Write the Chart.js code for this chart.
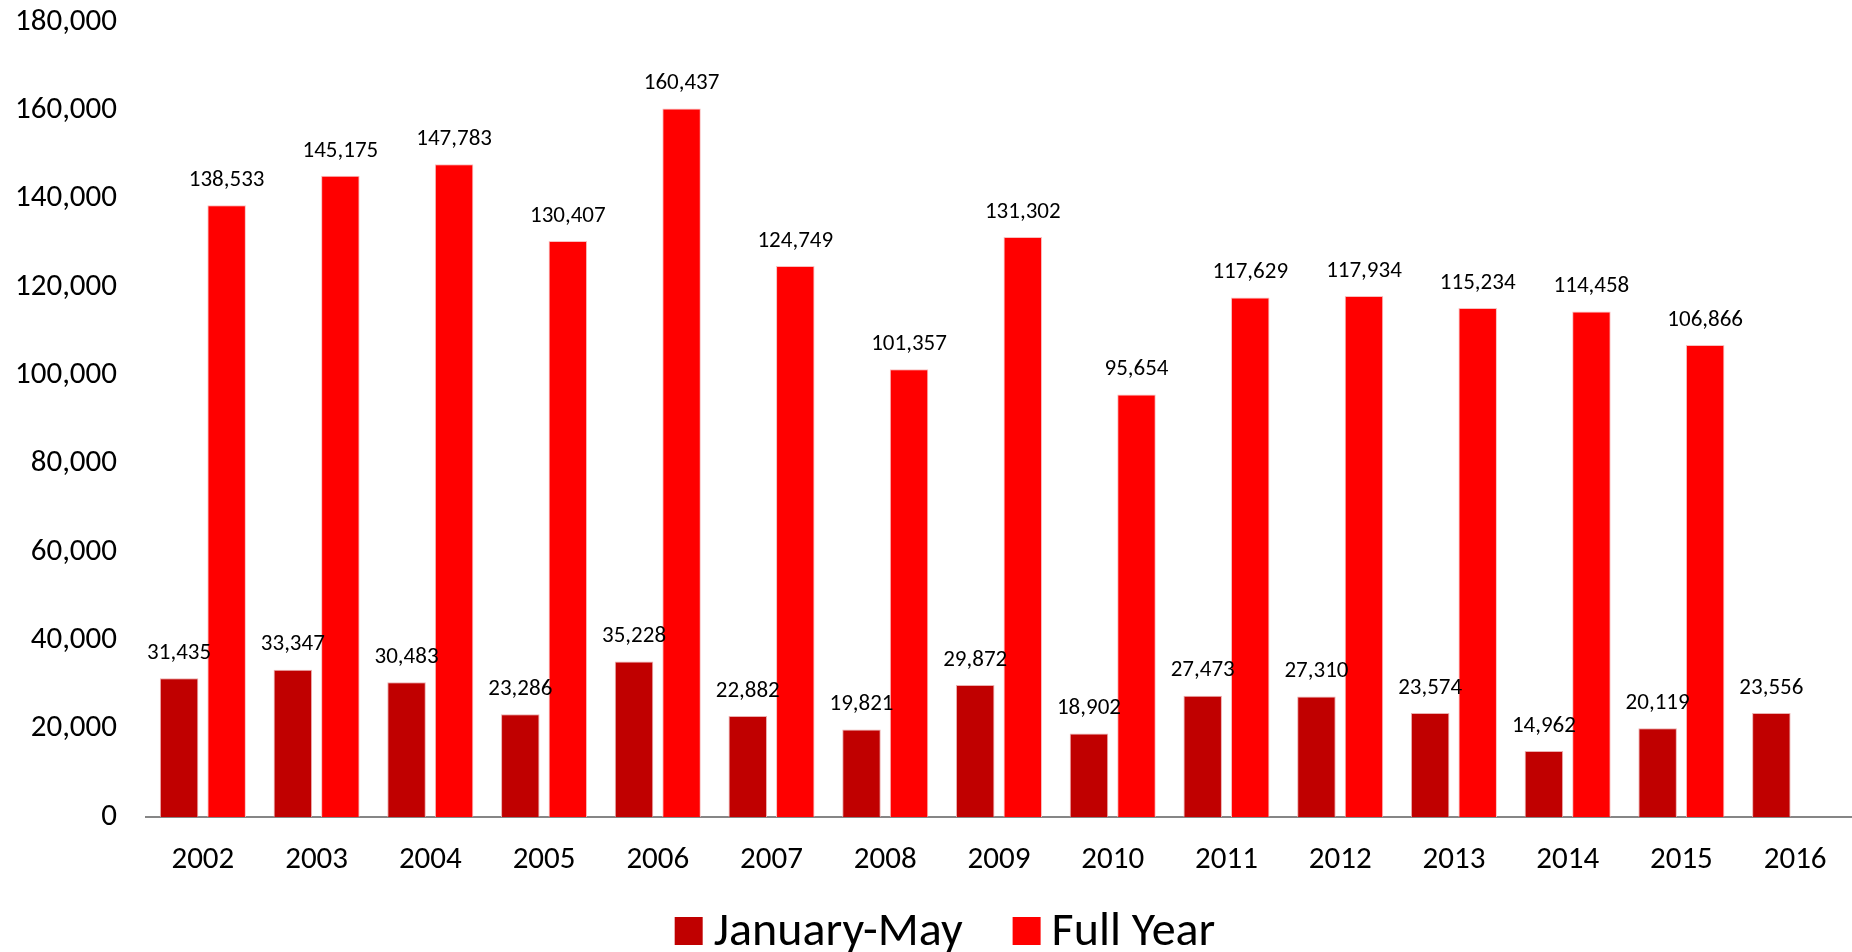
<!DOCTYPE html>
<html>
<head>
<meta charset="utf-8">
<script src="https://cdn.jsdelivr.net/npm/chart.js@4/dist/chart.umd.min.js"></script>
<style>
  html, body { margin: 0; padding: 0; background: #fff; }
  #wrap { width: 1852px; height: 952px; }
</style>
</head>
<body>
<div id="wrap"><canvas id="chart"></canvas></div>
<script>
// --- Data ---
const years = ['2002','2003','2004','2005','2006','2007','2008','2009','2010','2011','2012','2013','2014','2015','2016'];
const janMay = [31435, 33347, 30483, 23286, 35228, 22882, 19821, 29872, 18902, 27473, 27310, 23574, 14962, 20119, 23556];
const fullYear = [138533, 145175, 147783, 130407, 160437, 124749, 101357, 131302, 95654, 117629, 117934, 115234, 114458, 106866, null];
const yTicks = [0, 20000, 40000, 60000, 80000, 100000, 120000, 140000, 160000, 180000];

const FONT = 'Calibri, Carlito, Lato, sans-serif';

// value above every bar
const barLabels = {
    id: 'barLabels',
    afterDatasetsDraw(chart) {
        const ctx = chart.ctx;
        ctx.save();
        ctx.font = '23px ' + FONT;
        ctx.fillStyle = '#000';
        ctx.textAlign = 'center';
        ctx.textBaseline = 'middle';
        chart.data.datasets.forEach((ds, i) => {
            chart.getDatasetMeta(i).data.forEach((bar, j) => {
                const v = ds.data[j];
                if (v == null) return;
                ctx.fillText(v.toLocaleString('en-US'), bar.x, bar.y - 25);
            });
        });
        ctx.restore();
    }
};

// legend drawn by hand so the box/text gaps match the original
const bottomLegend = {
    id: 'bottomLegend',
    afterDraw(chart) {
        const ctx = chart.ctx;
        const box = 28, gap = 11, itemGap = 50;
        ctx.save();
        ctx.font = '48px ' + FONT;
        ctx.textBaseline = 'middle';
        ctx.textAlign = 'left';
        const items = chart.data.datasets.map(ds => ({ text: ds.label, color: ds.backgroundColor, w: ctx.measureText(ds.label).width }));
        const total = items.reduce((s, it) => s + box + gap + it.w, 0) + itemGap * (items.length - 1);
        let x = (chart.width - total) / 2 + 19;
        const y = 931;
        items.forEach(it => {
            ctx.fillStyle = it.color;
            ctx.fillRect(x, y - box / 2, box, box);
            x += box + gap;
            ctx.fillStyle = '#000';
            ctx.fillText(it.text, x, y + 2);
            x += it.w + itemGap;
        });
        ctx.restore();
    }
};

new Chart(document.getElementById('chart').getContext('2d'), {
    type: 'bar',
    data: {
        labels: years,
        datasets: [
            { label: 'January-May', data: janMay, backgroundColor: '#C00000', borderColor: '#EBB0B0', borderWidth: 1 },
            { label: 'Full Year', data: fullYear, backgroundColor: '#FF0000', borderColor: '#F8C0C0', borderWidth: 1 }
        ]
    },
    options: {
        responsive: true,
        maintainAspectRatio: false,
        animation: false,
        categoryPercentage: 0.836,
        barPercentage: 0.81,
        layout: { padding: { top: 0, right: 0, left: 0, bottom: 65 } },
        scales: {
            y: {
                min: 0, max: 180000,
                afterBuildTicks: s => { s.ticks = yTicks.map(v => ({ value: v })); },
                afterFit: s => { s.width = 146; s.paddingTop = 22; s.paddingBottom = 0; },
                grid: { display: false, drawTicks: false },
                border: { display: false },
                ticks: {
                    padding: 29,
                    color: '#000',
                    font: { family: FONT, size: 31 },
                    callback: v => v.toLocaleString('en-US')
                }
            },
            x: {
                afterFit: s => { s.height = 70; },
                grid: { display: false, drawTicks: false },
                border: { color: '#868686', width: 2 },
                ticks: { padding: 25, color: '#000', font: { family: FONT, size: 31 } }
            }
        },
        plugins: {
            legend: { display: false },
            tooltip: { enabled: false }
        }
    },
    plugins: [barLabels, bottomLegend]
});
</script>
</body>
</html>
